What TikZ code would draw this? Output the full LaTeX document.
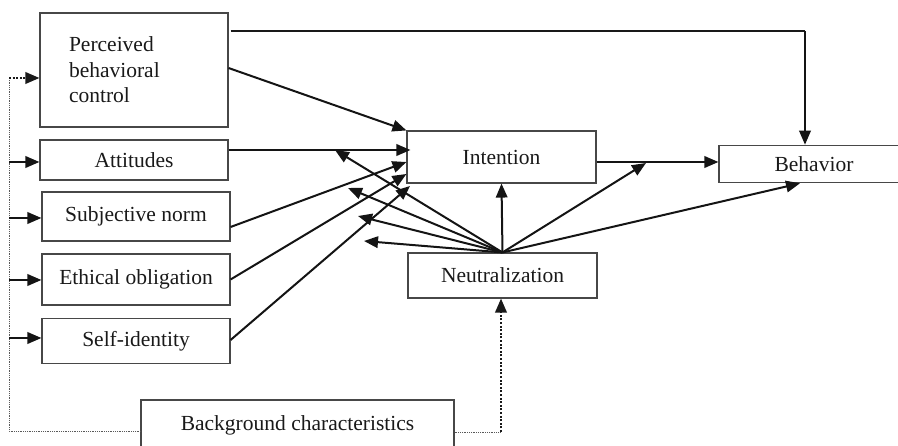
\documentclass[tikz,border=0pt]{standalone}
\usepackage{fontspec}
\setmainfont{Liberation Serif}
\usetikzlibrary{arrows.meta}
\begin{document}
\begin{tikzpicture}[x=1pt,y=-1pt,
 box/.style={draw=black!72, line width=1.1pt, rectangle, inner sep=0pt,
   font=\fontsize{21.5}{25.5}\selectfont, text=black!90},
 arr/.style={draw=black!92, line width=2pt, -{Triangle[length=14pt,width=11.5pt]}},
 thinarr/.style={draw=black!90, line width=1.3pt},
 dotl/.style={draw=black!65, line width=0.9pt, dash pattern=on 0.9pt off 0.9pt},
 dotarr/.style={draw=black!90, line width=2pt, dash pattern=on 2pt off 1.6pt,
   -{Triangle[length=14pt,width=11.5pt]}},
 ]
\useasboundingbox (0,0) rectangle (898,446);
\clip (0,0) rectangle (898,446);

% nodes
\node[box, minimum width=188pt, minimum height=114pt, text width=130pt, align=left] (pbc) at (134,70) {Perceived\\behavioral\\control};
\node[box, minimum width=188pt, minimum height=40pt] (att) at (134,160) {Attitudes};
\node[box, minimum width=188pt, minimum height=49pt] (sn) at (136,216.5) {Subjective norm};
\node[box, minimum width=188pt, minimum height=51pt] (eo) at (136,279.5) {Ethical obligation};
\node[box, minimum width=188pt, minimum height=45pt] (si) at (136,341) {Self-identity};
\node[box, minimum width=189pt, minimum height=52pt] (int) at (501.5,157) {Intention};
\node[box, minimum width=190pt, minimum height=37.5pt] (beh) at (814,164) {Behavior};
\node[box, minimum width=189pt, minimum height=45pt] (neu) at (502.5,275.5) {Neutralization};
\node[box, minimum width=313pt, minimum height=50pt] (bg) at (297.5,425) {Background characteristics};

% free-end coordinates
\coordinate (L) at (9,78);
\coordinate (tc) at (805,31);
\coordinate (n1) at (335,150);
\coordinate (n2) at (348,188);
\coordinate (n3) at (358,216);
\coordinate (n4) at (364,241);
\coordinate (n5) at (646,163);
\coordinate (ti) at (410,186);
\coordinate (bc) at (501,432);

% PBC -> Behavior
\draw[thinarr] (pbc.east |- tc) ++(2,0) -- (tc);
\draw[arr] (tc) -- ([xshift=-9pt]beh.north);

% predictors -> Intention
\draw[arr] ([yshift=2pt]pbc.east) -- (int.north west);
\draw[arr] ([yshift=10pt]att.east) -- ([xshift=4pt,yshift=10pt]att.east -| int.west);
\draw[arr] ([yshift=-10.5pt]sn.east) -- ([yshift=-5pt]int.west);
\draw[arr] (eo.east) -- ([yshift=-17pt]int.west);
\draw[arr] ([yshift=1pt]si.east) -- (ti);

% Neutralization fan
\draw[arr] (neu.north) -- (n1);
\draw[arr] (neu.north) -- (n2);
\draw[arr] (neu.north) -- (n3);
\draw[arr] (neu.north) -- (n4);
\draw[arr] (neu.north) -- (int.south);
\draw[arr] (neu.north) -- (n5);
\draw[arr] (neu.north) -- ([xshift=-14pt]beh.south);

% Intention -> Behavior
\draw[arr] ([yshift=-5pt]int.east) -- ([yshift=-5pt]int.east -| beh.west);

% background characteristics links
\draw[dotl] (L) |- ([yshift=-6pt]bg.west);
\draw[dotarr] (L) -- (L -| pbc.west);
\draw[arr] (L |- 0,162) -- (att.west |- 0,162);
\draw[arr] (L |- 0,218) -- (sn.west |- 0,218);
\draw[arr] (L |- 0,280) -- (eo.west |- 0,280);
\draw[arr] (L |- 0,338) -- (si.west |- 0,338);
\draw[dotl] ([yshift=-7pt]bg.east) -- (bc);
\draw[dotarr] (bc) -- (bc |- neu.south);
\end{tikzpicture}
\end{document}
